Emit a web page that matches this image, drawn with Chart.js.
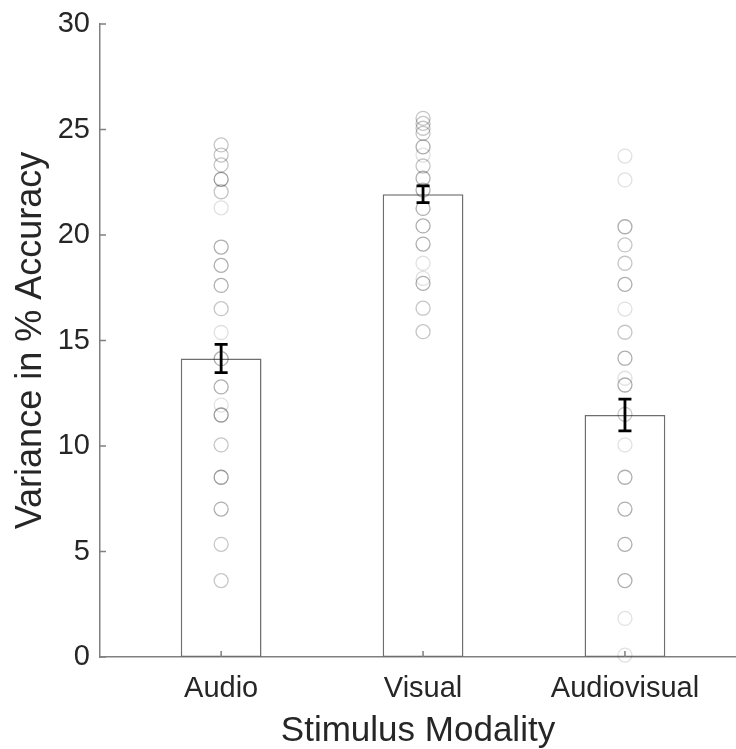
<!DOCTYPE html>
<html lang="en">
<head>
    <meta charset="UTF-8">
    <title>Variance in % Accuracy by Stimulus Modality</title>
    <style>
        html, body {
            margin: 0;
            padding: 0;
            background: #ffffff;
            overflow: hidden;
        }
        #wrap {
            position: relative;
            width: 736px;
            height: 749px;
        }
    </style>
    <script src="https://cdn.jsdelivr.net/npm/chart.js"></script>
</head>
<body>
    <div id="wrap">
        <canvas id="chart" width="736" height="749"></canvas>
    </div>

    <script>
        // --- data ---
        const categories = ['Audio', 'Visual', 'Audiovisual'];
        const means = [14.15, 21.93, 11.47];
        const sem = [0.67, 0.40, 0.75];
        const yTicks = [0, 5, 10, 15, 20, 25, 30];

        // individual subjects; "counts" = how many circles overlap at that spot (darker)
        const audioPoints = [24.27, 23.79, 23.32, 22.64, 22.05, 21.29, 19.43, 18.56, 17.61, 16.51,
                             15.38, 14.14, 12.80, 11.94, 11.47, 10.05, 8.52, 7.01, 5.34, 3.62];
        const audioCounts = [2, 2, 2, 4, 2, 1, 3, 3, 3, 2, 1, 3, 3, 1, 4, 2, 4, 3, 2, 2];

        const visualPoints = [25.53, 25.29, 25.06, 24.82, 24.18, 23.79, 23.27, 22.69, 22.13, 21.26,
                              20.43, 19.57, 18.66, 17.94, 17.71, 16.53, 15.42];
        const visualCounts = [2, 2, 2, 2, 3, 1, 2, 3, 3, 3, 3, 3, 1, 1, 3, 2, 2];

        const avPoints = [23.74, 22.61, 20.39, 19.53, 18.66, 17.66, 16.49, 15.39, 14.16, 13.21,
                          12.89, 11.50, 10.05, 8.52, 7.01, 5.34, 3.62, 1.83, 0.09];
        const avCounts = [1, 1, 3, 2, 2, 3, 1, 2, 3, 1, 3, 2, 1, 3, 3, 3, 3, 1, 1];

        const pointSets = [audioPoints, visualPoints, avPoints];
        const countSets = [audioCounts, visualCounts, avCounts];

        const textColor = '#262626';
        const axisColor = '#808080';
        const FONT = "'Liberation Sans', Arial, Helvetica, sans-serif";

        // one faint circle has this alpha, overlapping ones build up
        function overlapAlpha(n) {
            return 1 - Math.pow(1 - 0.12, n);
        }

        const scatterData = [];
        const scatterColors = [];
        pointSets.forEach(function (pts, i) {
            pts.forEach(function (v, j) {
                scatterData.push({ x: i + 1, y: v });
                scatterColors.push('rgba(0,0,0,' + overlapAlpha(countSets[i][j]).toFixed(3) + ')');
            });
        });

        // error bars + inward tick marks (MATLAB style)
        const extrasPlugin = {
            id: 'extras',
            afterDatasetsDraw(chart) {
                const ctx = chart.ctx;
                const xs = chart.scales.x, ys = chart.scales.y;
                ctx.save();
                ctx.strokeStyle = '#000000';
                ctx.lineWidth = 2.8;
                means.forEach(function (m, i) {
                    const px = xs.getPixelForValue(i + 1);
                    const top = ys.getPixelForValue(m + sem[i]);
                    const bot = ys.getPixelForValue(m - sem[i]);
                    ctx.beginPath();
                    ctx.moveTo(px, top); ctx.lineTo(px, bot);
                    ctx.moveTo(px - 6.5, top); ctx.lineTo(px + 6.5, top);
                    ctx.moveTo(px - 6.5, bot); ctx.lineTo(px + 6.5, bot);
                    ctx.stroke();
                });
                ctx.restore();
            },
            afterDraw(chart) {
                const ctx = chart.ctx;
                const xs = chart.scales.x, ys = chart.scales.y;
                const area = chart.chartArea;
                ctx.save();
                ctx.strokeStyle = axisColor;
                ctx.lineWidth = 1.5;
                ctx.beginPath();
                xs.ticks.forEach(function (t) {
                    const px = xs.getPixelForValue(t.value);
                    ctx.moveTo(px, area.bottom); ctx.lineTo(px, area.bottom - 6);
                });
                ys.ticks.forEach(function (t) {
                    const py = ys.getPixelForValue(t.value);
                    ctx.moveTo(area.left, py); ctx.lineTo(area.left + 6, py);
                });
                ctx.stroke();
                ctx.restore();
            }
        };

        new Chart(document.getElementById('chart'), {
            data: {
                datasets: [
                    {
                        type: 'scatter',
                        data: scatterData,
                        pointRadius: 7,
                        pointHoverRadius: 7,
                        pointBorderWidth: 1.3,
                        pointBackgroundColor: 'rgba(0,0,0,0)',
                        pointBorderColor: scatterColors,
                        clip: false,
                        order: 1
                    },
                    {
                        type: 'bar',
                        data: means.map(function (m, i) { return { x: i + 1, y: m }; }),
                        backgroundColor: '#ffffff',
                        borderColor: '#6e6e6e',
                        borderWidth: 1.5,
                        borderSkipped: false,
                        categoryPercentage: 1.0,
                        barPercentage: 0.4,
                        order: 2
                    }
                ]
            },
            options: {
                responsive: false,
                animation: false,
                events: [],
                layout: { autoPadding: false, padding: { top: 24, right: 0, left: 0, bottom: 0 } },
                plugins: {
                    legend: { display: false },
                    tooltip: { enabled: false }
                },
                scales: {
                    x: {
                        type: 'linear',
                        position: 'bottom',
                        offset: false,
                        min: 0.4,
                        max: 3.55,
                        afterBuildTicks: function (scale) {
                            scale.ticks = categories.map(function (c, i) { return { value: i + 1 }; });
                        },
                        afterFit: function (scale) {
                            scale.height = 92;
                            scale.paddingLeft = 0;
                            scale.paddingRight = 0;
                        },
                        ticks: {
                            autoSkip: false,
                            maxRotation: 0,
                            padding: 15,
                            color: textColor,
                            font: { family: FONT, size: 29 },
                            callback: function (v) { return categories[v - 1]; }
                        },
                        grid: { display: false, drawTicks: false, offset: false },
                        border: { display: true, color: axisColor, width: 1.5 },
                        title: {
                            display: true,
                            text: 'Stimulus Modality',
                            color: textColor,
                            font: { family: FONT, size: 35 },
                            padding: { top: 0, bottom: -3 }
                        }
                    },
                    y: {
                        type: 'linear',
                        min: 0,
                        max: 30,
                        afterBuildTicks: function (scale) {
                            scale.ticks = yTicks.map(function (v) { return { value: v }; });
                        },
                        afterFit: function (scale) {
                            scale.width = 100;
                            scale.paddingTop = 0;
                            scale.paddingBottom = 0;
                        },
                        ticks: {
                            padding: 10,
                            color: textColor,
                            font: { family: FONT, size: 29 }
                        },
                        grid: { display: false, drawTicks: false },
                        border: { display: true, color: axisColor, width: 1.5 },
                        title: {
                            display: true,
                            text: 'Variance in % Accuracy',
                            color: textColor,
                            font: { family: FONT, size: 36 },
                            padding: { top: 9, bottom: 0 }
                        }
                    }
                }
            },
            plugins: [extrasPlugin]
        });
    </script>
</body>
</html>
